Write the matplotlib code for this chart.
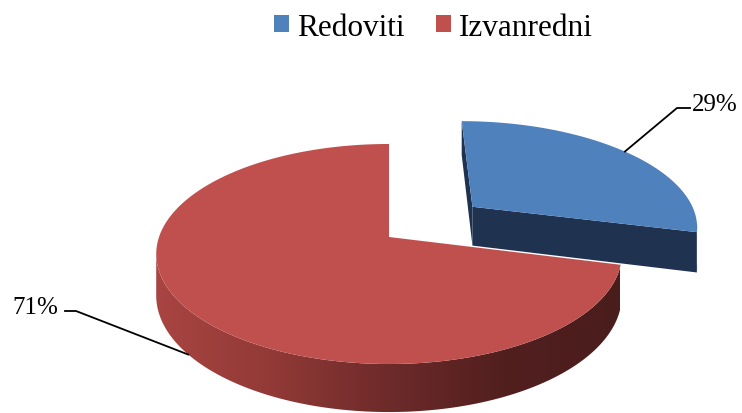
"""
3D-style pie: Redoviti vs Izvanredni
"""
import numpy as np
import matplotlib.pyplot as plt
from matplotlib.patches import Polygon, Patch
from matplotlib.colors import LinearSegmentedColormap

# Data
labels = ['Redoviti', 'Izvanredni']
values = [29, 71]
pct_labels = ['29%', '71%']
top_colors = ['#4f81bd', '#c0504d']
side_colors = ['#1f3350', '#8a3633']
explode = [0.48, 0.0]

# Pseudo-perspective projection (pixel space)
CX, CY = 389, 238
A, B = 230, 107.4
K = 0.1545
DEPTH = 40.6
FRONT = (-180 + np.degrees(np.arcsin(K)), -np.degrees(np.arcsin(K)))


def proj(u, v, z=0.0):
    w = 1 + K * v
    return CX + A * u / w, CY - B * v / w + z * DEPTH / w


def rim(u0, v0, t1, t2, z=0.0, n=120):
    t = np.radians(np.linspace(t1, t2, n))
    return [proj(u0 + np.cos(a), v0 + np.sin(a), z) for a in t]


plt.rcParams['font.family'] = ['Liberation Serif', 'DejaVu Serif']
fig = plt.figure(figsize=(7.42, 4.14), dpi=100)
ax = fig.add_axes([0, 0, 1, 1])
ax.set_xlim(0, 742)
ax.set_ylim(414, 0)
ax.axis('off')

# Red side gradient (left lighter -> right dark)
side_cmap = LinearSegmentedColormap.from_list(
    'side', ['#aa4542', '#933a37', '#6e2b2a', '#521f1f', '#4a1d1d'])

total = sum(values)
start = 90.0
anchors = []
for i, val in enumerate(values):
    t2 = start
    t1 = start - 360.0 * val / total
    start = t1
    mid = np.radians((t1 + t2) / 2)
    u0, v0 = explode[i] * np.cos(mid), explode[i] * np.sin(mid)

    # cut faces
    for t, nrm in ((t1, t1 - 90), (t2, t2 + 90)):
        if np.sin(np.radians(nrm)) <= 1e-9:
            a = np.radians(t)
            p_in_top = proj(u0, v0)
            p_out_top = proj(u0 + np.cos(a), v0 + np.sin(a))
            p_out_bot = proj(u0 + np.cos(a), v0 + np.sin(a), 1)
            p_in_bot = proj(u0, v0, 1)
            ax.add_patch(Polygon([p_in_top, p_out_top, p_out_bot, p_in_bot],
                                 closed=True, facecolor=side_colors[i],
                                 edgecolor='none'))

    # curved side
    s1, s2 = max(t1, FRONT[0]), min(t2, FRONT[1])
    if s2 > s1:
        pts = rim(u0, v0, s1, s2) + rim(u0, v0, s2, s1, 1)
        side = Polygon(pts, closed=True, facecolor=side_colors[i],
                       edgecolor='none')
        ax.add_patch(side)
        if i == 1:
            side.set_facecolor('none')
            grad = np.linspace(0, 1, 256).reshape(1, -1)
            im = ax.imshow(grad, cmap=side_cmap, aspect='auto',
                           extent=(150, 620, 420, 230), zorder=1)
            im.set_clip_path(side)

    # top face
    pts = [proj(u0, v0)] + rim(u0, v0, t1, t2)
    ax.add_patch(Polygon(pts, closed=True, facecolor=top_colors[i],
                         edgecolor='none', zorder=2))

    anchors.append((u0 + np.cos(mid), v0 + np.sin(mid)))

ax.set_xlim(0, 742)
ax.set_ylim(414, 0)

# Data labels with leader lines
ax_, ay_ = proj(*anchors[0])
ax.plot([ax_, 677, 690], [ay_, 109, 109], color='black', lw=1.3, zorder=3)
ax.text(692, 111, pct_labels[0], fontsize=18, va='baseline', ha='left')

bx_, by_ = proj(*anchors[1], 1)
ax.plot([65, 76, bx_], [312, 312, by_], color='black', lw=1.3, zorder=3)
ax.text(58, 314, pct_labels[1], fontsize=18, va='baseline', ha='right')

# Legend
handles = [Patch(facecolor=c, edgecolor='none') for c in top_colors]
ax.legend(handles, labels, loc='upper center', bbox_to_anchor=(0.584, 1.035),
          ncol=2, frameon=False, fontsize=22.5, handlelength=0.5,
          handleheight=0.5, handletextpad=0.25, columnspacing=1.0)

plt.savefig('out.png', dpi=100)
plt.close()
